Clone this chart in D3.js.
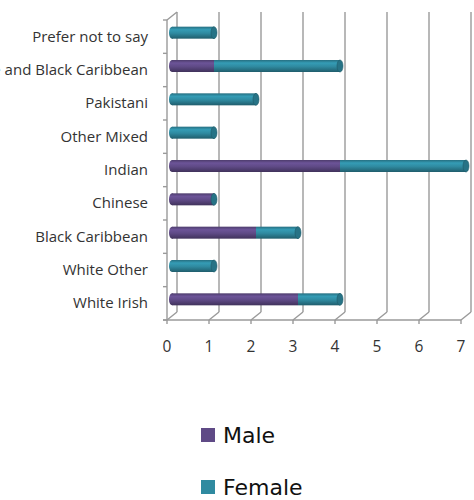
<!DOCTYPE html>
<html>
<head>
<meta charset="utf-8">
<script src="https://cdn.jsdelivr.net/npm/d3@7"></script>
<style>
  html, body { margin: 0; padding: 0; background: #fff; }
  svg { display: block; }
</style>
</head>
<body>
<svg id="chart" width="474" height="500"></svg>
<script>
// Respondents by ethnic group, split by gender
const categories = [
  "Prefer not to say",
  "Mixed White and Black Caribbean",
  "Pakistani",
  "Other Mixed",
  "Indian",
  "Chinese",
  "Black Caribbean",
  "White Other",
  "White Irish"
];
const male   = [0, 1, 0, 0, 4, 1, 2, 0, 3];
const female = [1, 3, 2, 1, 3, 0, 1, 1, 1];
const seriesNames = ["Male", "Female"];
const seriesColors = ["#5f4a86", "#2f8aa0"];
const xTicks = [0, 1, 2, 3, 4, 5, 6, 7];

const svg = d3.select("#chart");

// Floor / back wall geometry (oblique depth offset)
const depth = { dx: 10, dy: -8 };
const x = d3.scaleLinear().domain([0, 7]).range([167, 461]);
const y = d3.scaleBand().domain(categories).range([20, 320]);
const barH = 12;

// Cylinder shading
const defs = svg.append("defs");
seriesColors.forEach((c, i) => {
  const base = d3.color(c);
  const g = defs.append("linearGradient")
    .attr("id", "cyl" + i).attr("x1", 0).attr("y1", 0).attr("x2", 0).attr("y2", 1);
  g.append("stop").attr("offset", "0%").attr("stop-color", base.darker(0.6));
  g.append("stop").attr("offset", "25%").attr("stop-color", base.brighter(0.35));
  g.append("stop").attr("offset", "55%").attr("stop-color", base);
  g.append("stop").attr("offset", "100%").attr("stop-color", base.darker(1.1));
});

const grid = svg.append("g").attr("stroke", "#9a9a9a").attr("stroke-width", 1.4).attr("fill", "none");
const yTop = 20, yBot = 320;

// Back wall vertical gridlines, floor diagonals and floor ticks
xTicks.forEach(t => {
  grid.append("line")
    .attr("x1", x(t) + depth.dx).attr("x2", x(t) + depth.dx)
    .attr("y1", yTop + depth.dy).attr("y2", yBot + depth.dy);
  grid.append("line")
    .attr("x1", x(t)).attr("y1", yBot)
    .attr("x2", x(t) + depth.dx).attr("y2", yBot + depth.dy);
  grid.append("line")
    .attr("x1", x(t)).attr("x2", x(t))
    .attr("y1", yBot).attr("y2", yBot + 4);
});

// Left wall and floor edge
grid.append("line").attr("x1", x(0)).attr("x2", x(0)).attr("y1", yTop).attr("y2", yBot);
grid.append("line").attr("x1", x(0)).attr("y1", yTop).attr("x2", x(0) + depth.dx).attr("y2", yTop + depth.dy);
grid.append("line").attr("x1", x(0) - 4).attr("x2", x(7)).attr("y1", yBot).attr("y2", yBot);

// Category ticks on the left wall
const yEdges = categories.map(c => y(c)).concat([yBot]);
yEdges.forEach(v => {
  grid.append("line").attr("x1", x(0) - 4).attr("x2", x(0)).attr("y1", v).attr("y2", v);
});

// Bars: stacked cylinders placed mid-depth
const bars = svg.append("g");
const mid = { dx: depth.dx / 2, dy: depth.dy / 2 };
const capRx = 3;
categories.forEach((cat, i) => {
  const vals = [male[i], female[i]];
  const cy = y(cat) + y.bandwidth() / 2 + mid.dy;
  let acc = 0;
  const total = vals[0] + vals[1];
  vals.forEach((v, s) => {
    const x0 = x(acc) + mid.dx, x1 = x(acc + v) + mid.dx;
    if (v > 0) {
      if (acc === 0) {
        bars.append("ellipse").attr("cx", x0).attr("cy", cy)
          .attr("rx", capRx).attr("ry", barH / 2).attr("fill", `url(#cyl${s})`);
      }
      bars.append("rect").attr("x", x0).attr("y", cy - barH / 2)
        .attr("width", x1 - x0).attr("height", barH).attr("fill", `url(#cyl${s})`);
    }
    acc += v;
  });
  // end face of the cylinder, coloured by the last series
  const xe = x(total) + mid.dx;
  const endColor = d3.color(seriesColors[1]);
  bars.append("ellipse").attr("cx", xe).attr("cy", cy)
    .attr("rx", capRx).attr("ry", barH / 2)
    .attr("fill", endColor.darker(0.5)).attr("stroke", endColor.darker(1.2)).attr("stroke-width", 0.6);
});

// Category labels (long label runs off the left edge)
const labelFont = "'Open Sans', 'Noto Sans', sans-serif";
svg.append("g").selectAll("text").data(categories).join("text")
  .attr("x", 148).attr("y", d => y(d) + y.bandwidth() / 2 + 1)
  .attr("text-anchor", "end").attr("dominant-baseline", "middle")
  .attr("font-family", labelFont).attr("font-size", 15).attr("fill", "#333")
  .text(d => d);

// X tick labels
svg.append("g").selectAll("text").data(xTicks).join("text")
  .attr("x", d => x(d)).attr("y", 352)
  .attr("text-anchor", "middle")
  .attr("font-family", labelFont).attr("font-size", 15.5).attr("fill", "#333")
  .text(d => d);

// Legend
const legend = svg.append("g");
seriesNames.forEach((name, i) => {
  const ly = 428 + i * 52;
  legend.append("rect").attr("x", 201).attr("y", ly).attr("width", 14).attr("height", 14)
    .attr("fill", seriesColors[i]);
  legend.append("text").attr("x", 223).attr("y", ly + 15)
    .attr("font-family", "'Comic Sans MS', 'Segoe Print', 'DejaVu Sans', sans-serif")
    .attr("font-size", 22).attr("fill", "#111")
    .text(name);
});
</script>
</body>
</html>
